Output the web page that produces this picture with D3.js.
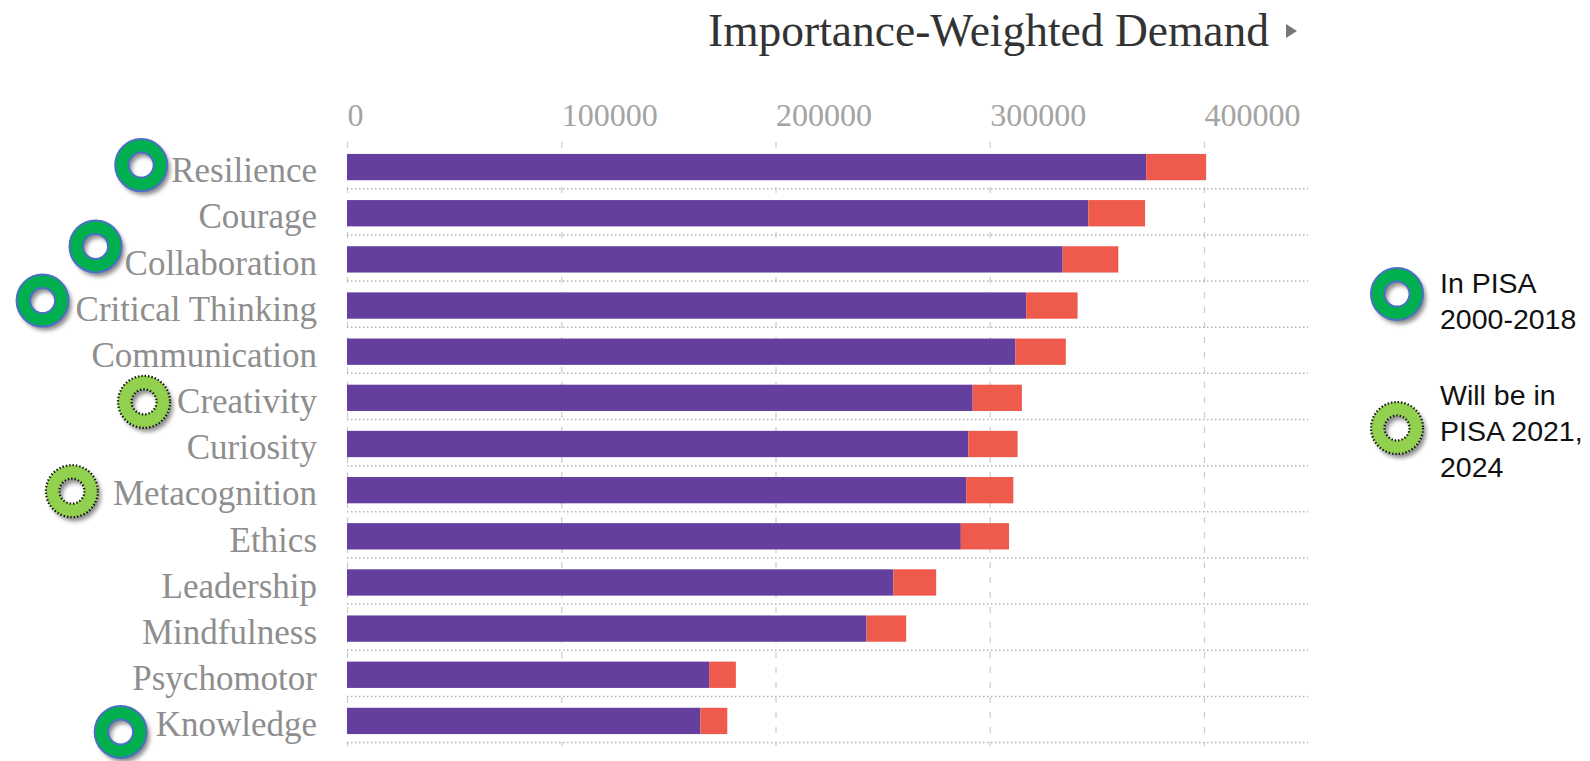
<!DOCTYPE html>
<html>
<head>
<meta charset="utf-8">
<script src="https://cdn.jsdelivr.net/npm/d3@7"></script>
<style>
  body { margin: 0; background: #fff; }
  svg { display: block; }
</style>
</head>
<body>
<svg id="chart" width="1590" height="761"></svg>
<script>
// skills, ordered as in the chart (top to bottom)
const categories = ["Resilience", "Courage", "Collaboration", "Critical Thinking", "Communication",
  "Creativity", "Curiosity", "Metacognition", "Ethics", "Leadership", "Mindfulness",
  "Psychomotor", "Knowledge"];
// purple segment
const baseDemand = [373000, 346000, 334000, 317000, 312000, 292000, 290000, 289000,
  286500, 255000, 242500, 169000, 165000];
// red segment on top of it
const extraDemand = [28000, 26500, 26000, 24000, 23500, 23000, 23000, 22000,
  22500, 20000, 18500, 12500, 12500];
const tickValues = [0, 100000, 200000, 300000, 400000];

const inPisa = ["Resilience", "Collaboration", "Critical Thinking", "Knowledge"];
const futurePisa = ["Creativity", "Metacognition"];

const titleText = "Importance-Weighted Demand";
const legendItems = [
  { kind: "solid", lines: ["In PISA", "2000-2018"] },
  { kind: "dotted", lines: ["Will be in", "PISA 2021,", "2024"] }
];

// badge placement tweaks (offset from label start / row centre)
const badgeNudge = {
  "Resilience": [-30, -2], "Collaboration": [-29, -13], "Critical Thinking": [-33, -5],
  "Creativity": [-33, 4], "Metacognition": [-41, 1], "Knowledge": [-35, 11]
};

const rows = categories.map((c, i) => ({ skill: c, base: baseDemand[i], extra: extraDemand[i] }));

const svg = d3.select("#chart");
const serif = "'Liberation Serif', 'Times New Roman', serif";

const plot = { left: 347, right: 1204, top: 144, bottom: 744 };

const x = d3.scaleLinear().domain([0, 400000]).range([plot.left, plot.right]);
const y = d3.scaleBand().domain(categories).range([plot.top, plot.bottom])
  .paddingInner(0.43).paddingOuter(0.215);

// drop shadow for badges
const defs = svg.append("defs");
const f = defs.append("filter").attr("id", "shadow")
  .attr("x", "-30%").attr("y", "-30%").attr("width", "170%").attr("height", "170%");
f.append("feDropShadow").attr("dx", 3).attr("dy", 4).attr("stdDeviation", 2.2)
  .attr("flood-color", "#000").attr("flood-opacity", 0.45);

// title
svg.append("text")
  .attr("x", 708).attr("y", 46)
  .style("font-family", serif).style("font-size", "45.5px").style("fill", "#333")
  .text(titleText);
svg.append("path")
  .attr("d", "M1286,24 L1297,31 L1286,38 Z")
  .attr("fill", "#777");

// top axis + vertical dashed grid
const xAxis = svg.append("g")
  .attr("class", "axis axis-x")
  .attr("transform", "translate(0," + 142 + ")")
  .call(d3.axisTop(x).tickValues(tickValues).tickFormat(d3.format("d"))
    .tickSizeInner(-(plot.bottom + 2 - 142)).tickSizeOuter(0).tickPadding(16));
xAxis.select(".domain").remove();
xAxis.selectAll(".tick line")
  .attr("stroke", "#cccccc").attr("stroke-width", 1.2).attr("stroke-dasharray", "6 9");
xAxis.selectAll(".tick text")
  .attr("text-anchor", "start")
  .style("font-family", serif).style("font-size", "32px").style("fill", "#a3a3a3");

// horizontal dotted separators under each bar
svg.append("g").selectAll("line")
  .data(categories)
  .join("line")
  .attr("x1", plot.left).attr("x2", 1308)
  .attr("y1", d => y(d) + y.bandwidth() + 8.5)
  .attr("y2", d => y(d) + y.bandwidth() + 8.5)
  .attr("stroke", "#b5b5b5").attr("stroke-width", 1.5).attr("stroke-dasharray", "1.5 2.5");

// stacked bars
const stack = d3.stack().keys(["base", "extra"])(rows);
const colorScale = d3.scaleOrdinal().domain(["base", "extra"]).range(["#643f9e", "#ee5a4b"]);

svg.append("g").selectAll("g")
  .data(stack)
  .join("g")
  .attr("fill", d => colorScale(d.key))
  .selectAll("rect")
  .data(d => d)
  .join("rect")
  .attr("x", d => x(d[0]))
  .attr("y", d => y(d.data.skill))
  .attr("width", d => x(d[1]) - x(d[0]))
  .attr("height", y.bandwidth());

// category labels
const yAxis = svg.append("g")
  .attr("class", "axis axis-y")
  .attr("transform", "translate(" + plot.left + ",0)")
  .call(d3.axisLeft(y).tickSize(0).tickPadding(30));
yAxis.select(".domain").remove();
yAxis.selectAll(".tick text")
  .attr("y", 4)
  .style("font-family", serif).style("font-size", "35px").style("fill", "#8e8e8e");

// ring badge
function ring(g, cx, cy, kind) {
  const R = 26, r = 12.5;
  const solid = kind === "solid";
  const grp = g.append("g").attr("transform", "translate(" + cx + "," + cy + ")");
  const p = d3.path();
  p.arc(0, 0, R, 0, 2 * Math.PI); p.closePath();
  p.moveTo(r, 0); p.arc(0, 0, r, 0, 2 * Math.PI); p.closePath();
  grp.append("path")
    .attr("d", p.toString())
    .attr("fill-rule", "evenodd")
    .attr("fill", solid ? "#00b050" : "#92d050")
    .attr("filter", "url(#shadow)");
  [R, r].forEach(rad => {
    grp.append("circle")
      .attr("r", rad)
      .attr("fill", "none")
      .attr("stroke", solid ? "#4a6fc4" : "#111")
      .attr("stroke-width", solid ? 2 : 2.2)
      .attr("stroke-dasharray", solid ? null : "1.4 2");
  });
}

const badges = svg.append("g");
yAxis.selectAll(".tick").each(function (d) {
  const kind = inPisa.includes(d) ? "solid" : futurePisa.includes(d) ? "dotted" : null;
  if (!kind) return;
  const bb = d3.select(this).select("text").node().getBBox();
  const labelLeft = plot.left + bb.x;
  const nudge = badgeNudge[d] || [-33, 0];
  ring(badges, labelLeft + nudge[0], y(d) + y.bandwidth() / 2 + nudge[1], kind);
});

// legend
const legend = svg.append("g");
const legendTops = [294, 428];
const legendBaselines = [[293, 329], [405, 441, 477]];
legendItems.forEach((item, i) => {
  ring(legend, 1397, legendTops[i], item.kind);
  item.lines.forEach((t, j) => {
    legend.append("text")
      .attr("x", 1440).attr("y", legendBaselines[i][j])
      .style("font-family", "'Liberation Sans', Arial, sans-serif")
      .style("font-size", "28.5px").style("fill", "#111")
      .text(t);
  });
});
</script>
</body>
</html>
